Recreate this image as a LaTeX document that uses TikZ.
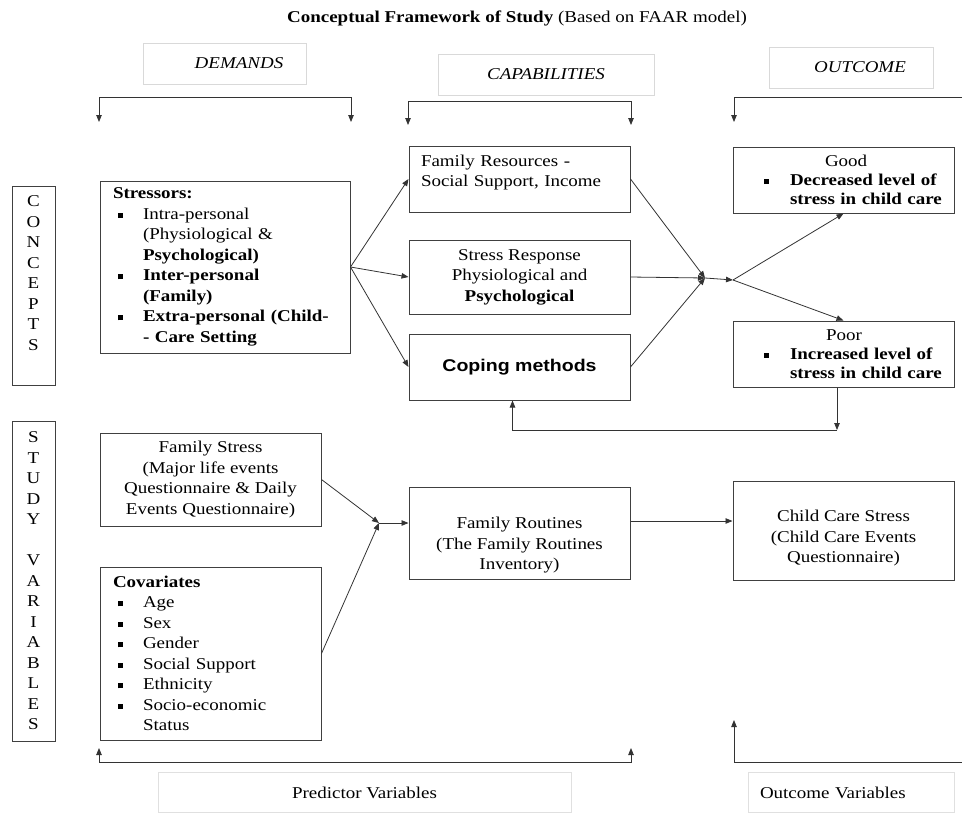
\documentclass[tikz,border=0pt]{standalone}
\usepackage{fontspec}
\setmainfont{Liberation Serif}[FakeStretch=1.15]
\newfontfamily\arialfont{Liberation Sans}[FakeStretch=1.15]
\usetikzlibrary{arrows.meta,positioning}

\newcommand\sqbul{\rule[1.5pt]{5pt}{5pt}}
\newcommand\bitem{\makebox[30pt][l]{\hspace*{5pt}\sqbul}}
\newcommand\bcont{\hspace*{30pt}}

\begin{document}
\begin{tikzpicture}[
    x=1pt, y=-1pt,
    every node/.style={
        font=\fontsize{16.5}{20.5}\selectfont
    },
    box/.style={
        rectangle,
        draw=black!75,
        line width=1pt,
        minimum width=221pt,
        inner sep=0pt,
        align=center
    },
    listbox/.style={
        box,
        inner xsep=13pt,
        align=left
    },
    resultbox/.style={
        box,
        minimum height=66pt,
        inner xsep=12pt,
        text width=197pt,
        align=left,
        font=\fontsize{16.5}{19}\selectfont
    },
    headbox/.style={
        rectangle,
        draw=black!15,
        line width=1pt,
        minimum height=41pt,
        inner sep=0pt,
        font=\fontsize{16.5}{20.5}\selectfont\itshape
    },
    footbox/.style={
        rectangle,
        draw=black!12,
        line width=1pt,
        minimum height=40pt,
        inner sep=0pt
    },
    sidebox/.style={
        rectangle,
        draw=black!75,
        line width=1pt,
        minimum width=43pt,
        inner sep=0pt,
        align=center
    },
    arrow/.style={
        -{Triangle[length=7pt,width=5.5pt]},
        line width=0.8pt,
        black!80
    },
    bracket/.style={
        {Triangle[length=7pt,width=5.5pt]}-{Triangle[length=7pt,width=5.5pt]},
        line width=0.8pt,
        black!80
    }
]
\useasboundingbox (0,0) rectangle (962,812);

% Title
\node (title) at (517,18) {\textbf{Conceptual Framework of Study} (Based on FAAR model)};

% Column headings
\node[headbox, minimum width=163pt] (demands) at (224.5,63.5) {\hspace*{29pt}DEMANDS};
\node[headbox, minimum width=216pt] (capab) at (546,74.5) {CAPABILITIES};
\node[headbox, minimum width=164pt] (outcome) at (851,67.5) {\hspace*{18pt}OUTCOME};

% Row headings
\node[sidebox, minimum height=199pt] (concepts) at (33.5,285.5)
    {C\\O\\N\\C\\E\\P\\T\\S\\[-1.5pt]\strut};
\node[sidebox, minimum height=320pt] (studyvars) at (33.5,581)
    {S\\T\\U\\D\\Y\\[20.5pt]V\\A\\R\\I\\A\\B\\L\\E\\S};

% Concepts row
\node[listbox, minimum width=250pt, minimum height=172pt, text width=224pt] (stressors) at (225,267)
    {\textbf{Stressors:}\\
     \bitem Intra-personal\\
     \bcont (Physiological \&\\
     \bcont \textbf{Psychological)}\\
     \bitem \textbf{Inter-personal}\\
     \bcont \textbf{(Family)}\\
     \bitem \textbf{Extra-personal (Child-}\\
     \bcont \textbf{- Care Setting}};
\node[box, minimum height=66pt, inner xsep=12pt, text width=197pt, align=left] (famres) at (519.5,179)
    {Family Resources -\\Social Support, Income\\[-10pt]\strut};
\node[box, minimum height=74pt, below=27pt of famres] (stressresp)
    {Stress Response\\Physiological and\\\textbf{Psychological}};
\node[box, minimum height=66pt, below=19pt of stressresp, font=\fontsize{17}{20.5}\arialfont\bfseries] (coping)
    {Coping methods};
\node[resultbox] (good) at (843.5,180)
    {\hspace*{80pt}Good\\
     \hspace*{19pt}\sqbul\hspace{21pt}\textbf{Decreased level of}\\
     \hspace*{45pt}\textbf{stress in child care}};
\node[resultbox, below=107pt of good] (poor)
    {\hspace*{81pt}Poor\\
     \hspace*{19pt}\sqbul\hspace{21pt}\textbf{Increased level of}\\
     \hspace*{45pt}\textbf{stress in child care}};

% Study variables row
\node[box, minimum height=93pt] (famstress) at (210.5,479.5)
    {Family Stress\\(Major life events\\Questionnaire \& Daily\\Events Questionnaire)};
\node[listbox, minimum height=173pt, text width=195pt, below=40pt of famstress] (covariates)
    {\textbf{Covariates}\\
     \bitem Age\\
     \bitem Sex\\
     \bitem Gender\\
     \bitem Social Support\\
     \bitem Ethnicity\\
     \bitem Socio-economic\\
     \bcont Status};
\node[box, minimum height=92pt] (routines) at (519.5,533)
    {\strut\\[1pt]Family Routines\\(The Family Routines\\Inventory)};
\node[box, minimum height=99pt] (ccstress) at (843.5,530.5)
    {\strut\\[-8pt]Child Care Stress\\(Child Care Events\\Questionnaire)};

% Variable labels
\node[footbox, minimum width=413pt] (predvars) at (364.5,792.5) {Predictor Variables};
\node[footbox, minimum width=206pt, text width=182pt, inner xsep=12pt, align=left] (outvars) at (851,792.5) {Outcome Variables};

% Junction points
\coordinate (jc) at (705,278);
\coordinate (split) at (733,280);
\coordinate (fb) at (837,430);
\coordinate (jl) at (379,523);

% Bracket ends
\coordinate (demL) at (99,122);
\coordinate (demR) at (351,122);
\coordinate (capL) at (408,125);
\coordinate (capR) at (631,125);
\coordinate (outL) at (734,122);
\coordinate (outR) at (962,97);
\coordinate (preL) at (99,748);
\coordinate (preR) at (631,748);
\coordinate (ovU) at (734,720);
\coordinate (ovR) at (962,762);

% Brackets
\draw[bracket] (demL) -- ++(0,-25) -| (demR);
\draw[bracket] (capL) -- ++(0,-24) -| (capR);
\draw[arrow] (outR) -| (outL);
\draw[bracket] (preL) -- ++(0,14) -| (preR);
\draw[arrow] (ovR) -| (ovU);

% Arrows
\draw[arrow] (stressors.east) -- (famres.west);
\draw[arrow] (stressors.east) -- (stressresp.west);
\draw[arrow] (stressors.east) -- (coping.west);
\draw[arrow] (famres.east) -- (jc);
\draw[arrow] (stressresp.east) -- (jc);
\draw[arrow] (coping.east) -- (jc);
\draw[arrow] (jc) -- (split);
\draw[arrow] (split) -- (good.south);
\draw[arrow] (split) -- (poor.north);
\draw[arrow] (poor.south -| fb) -- (fb);
\draw[arrow] (fb) -| ([xshift=-7pt]coping.south);
\draw[arrow] (famstress.east) -- (jl);
\draw[arrow] (covariates.east) -- (jl);
\draw[arrow] (jl) -- (jl -| routines.west);
\draw[arrow] ([yshift=12pt]routines.east) -- ([yshift=12pt]routines.east -| ccstress.west);

\end{tikzpicture}
\end{document}
